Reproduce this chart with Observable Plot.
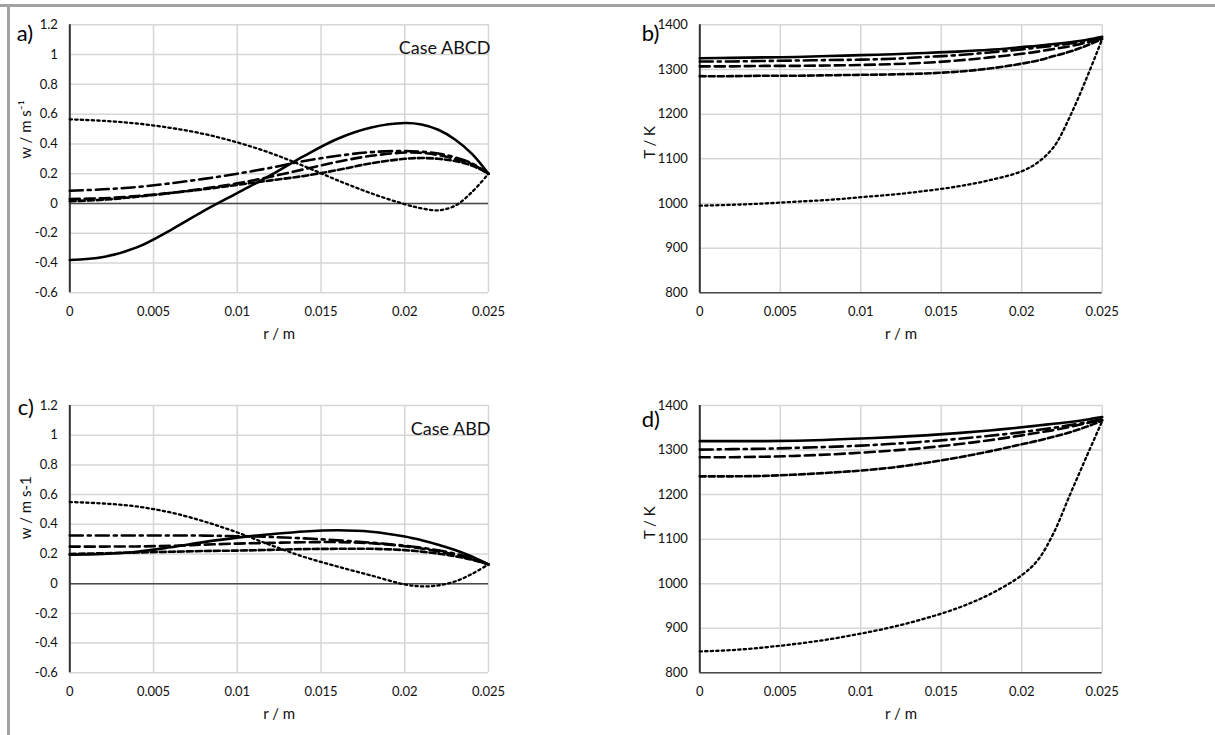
<!DOCTYPE html>
<html><head><meta charset="utf-8">
<script src="https://cdn.jsdelivr.net/npm/d3@7"></script>
<script src="https://cdn.jsdelivr.net/npm/@observablehq/plot@0.6"></script>
<style>
body{margin:0;background:#fff;}
#root{position:relative;width:1215px;height:735px;overflow:hidden;background:#fff;font-family:Lato,"Open Sans",sans-serif;}
.panel{position:absolute;}
.bdr{position:absolute;background:#a3a3a3;}
</style></head><body>
<div id="root"></div>
<script>
// ---------- data ----------
const r = [0, 0.002, 0.004, 0.006, 0.008, 0.010, 0.012, 0.014, 0.016, 0.018, 0.020, 0.021, 0.022, 0.023, 0.024, 0.025];

const xTicks = [0, 0.005, 0.01, 0.015, 0.02, 0.025];
const xTickLabels = ["0", "0.005", "0.01", "0.015", "0.02", "0.025"];
const wTicks = [-0.6, -0.4, -0.2, 0, 0.2, 0.4, 0.6, 0.8, 1, 1.2];
const wTickLabels = ["-0.6", "-0.4", "-0.2", "0", "0.2", "0.4", "0.6", "0.8", "1", "1.2"];
const tTicks = [800, 900, 1000, 1100, 1200, 1300, 1400];
const tTickLabels = ["800", "900", "1000", "1100", "1200", "1300", "1400"];

const seriesKeys = ["S1", "S2", "S3", "S4", "S5"];

// panel a: w, Case ABCD
const wA1 = [-0.38, -0.36, -0.295, -0.18, -0.05, 0.07, 0.19, 0.32, 0.435, 0.51, 0.54, 0.53, 0.495, 0.43, 0.335, 0.20];
const wA2 = [0.085, 0.095, 0.11, 0.135, 0.165, 0.20, 0.24, 0.285, 0.32, 0.345, 0.352, 0.347, 0.335, 0.31, 0.27, 0.20];
const wA3 = [0.03, 0.035, 0.05, 0.07, 0.10, 0.135, 0.18, 0.23, 0.28, 0.32, 0.342, 0.34, 0.325, 0.30, 0.265, 0.20];
const wA4 = [0.015, 0.025, 0.045, 0.07, 0.095, 0.125, 0.155, 0.185, 0.225, 0.27, 0.30, 0.305, 0.30, 0.285, 0.255, 0.20];
const wA5 = [0.565, 0.555, 0.537, 0.508, 0.467, 0.41, 0.338, 0.25, 0.155, 0.068, -0.005, -0.033, -0.046, -0.015, 0.075, 0.20];

// panel b: T, Case ABCD
const tB1 = [1325, 1326, 1327, 1328, 1330, 1332, 1334, 1337, 1340, 1344, 1350, 1353, 1357, 1361, 1366, 1373];
const tB2 = [1318, 1318, 1319, 1320, 1321, 1322, 1324, 1328, 1332, 1338, 1345, 1349, 1353, 1358, 1363, 1370];
const tB3 = [1307, 1307, 1308, 1308, 1309, 1310, 1312, 1315, 1320, 1327, 1335, 1340, 1346, 1352, 1360, 1370];
const tB4 = [1285, 1285, 1286, 1286, 1287, 1288, 1289, 1291, 1295, 1302, 1313, 1320, 1330, 1340, 1353, 1368];
const tB5 = [995, 997, 1000, 1004, 1008, 1014, 1020, 1028, 1038, 1052, 1072, 1092, 1127, 1195, 1278, 1368];

// panel c: w, Case ABD
const wC1 = [0.195, 0.20, 0.215, 0.245, 0.28, 0.31, 0.333, 0.352, 0.36, 0.35, 0.318, 0.293, 0.263, 0.227, 0.183, 0.13];
const wC2 = [0.325, 0.325, 0.325, 0.325, 0.324, 0.32, 0.315, 0.305, 0.292, 0.276, 0.256, 0.242, 0.225, 0.202, 0.172, 0.13];
const wC3 = [0.25, 0.25, 0.251, 0.255, 0.263, 0.27, 0.275, 0.279, 0.28, 0.272, 0.252, 0.237, 0.217, 0.195, 0.165, 0.13];
const wC4 = [0.20, 0.205, 0.21, 0.215, 0.22, 0.223, 0.228, 0.233, 0.235, 0.235, 0.226, 0.216, 0.202, 0.185, 0.162, 0.13];
const wC5 = [0.55, 0.54, 0.52, 0.48, 0.42, 0.345, 0.26, 0.18, 0.115, 0.055, -0.005, -0.018, -0.012, 0.015, 0.065, 0.13];

// panel d: T, Case ABD
const tD1 = [1320, 1320, 1320, 1321, 1323, 1326, 1329, 1333, 1338, 1344, 1351, 1355, 1359, 1363, 1368, 1374];
const tD2 = [1301, 1302, 1303, 1305, 1307, 1310, 1314, 1319, 1325, 1332, 1340, 1345, 1350, 1356, 1362, 1370];
const tD3 = [1284, 1284, 1285, 1287, 1290, 1294, 1299, 1305, 1313, 1322, 1333, 1339, 1345, 1352, 1360, 1368];
const tD4 = [1241, 1241, 1242, 1245, 1249, 1254, 1261, 1271, 1283, 1297, 1313, 1321, 1330, 1340, 1352, 1366];
const tD5 = [848, 851, 857, 865, 875, 888, 903, 922, 945, 976, 1019, 1053, 1115, 1200, 1283, 1365];

// ---------- styles ----------
const lineStyle = {
  S1: {strokeWidth: 2.6, strokeDasharray: null},
  S2: {strokeWidth: 2.6, strokeDasharray: "13,5,3,5"},
  S3: {strokeWidth: 2.6, strokeDasharray: "10,5"},
  S4: {strokeWidth: 2.6, strokeDasharray: "6,3"},
  S5: {strokeWidth: 2.3, strokeDasharray: "2.3,3.2"}
};

function table(arrs) {
  const rows = [];
  arrs.forEach((vals, k) => vals.forEach((v, i) => rows.push({r: r[i], v, s: seriesKeys[k]})));
  return rows;
}

const root = document.getElementById("root");
function addBorder(css) { const d = document.createElement("div"); d.className = "bdr"; Object.assign(d.style, css); root.appendChild(d); }

function panel({left, top, width, height, mL, mR, mT, mB, yDomain, yTicks, yLabels, baseY, yTitle, yTitleDx, tag, tagDx, tagDy, caseText, caseDy, series}) {
  const rows = table(series);
  const fmtX = d => xTickLabels[xTicks.indexOf(d)];
  const fmtY = d => yLabels[yTicks.indexOf(d)];
  const marks = [
    Plot.gridX(xTicks, {stroke: "#d6d6d6", strokeOpacity: 1, strokeWidth: 1.5}),
    Plot.gridY(yTicks, {stroke: "#d6d6d6", strokeOpacity: 1, strokeWidth: 1.5}),
    Plot.axisX(xTicks, {tickSize: 0, tickPadding: 14, tickFormat: fmtX, label: null, fontSize: 13, fill: "#111"}),
    Plot.axisY(yTicks, {tickSize: 0, tickPadding: 12, tickFormat: fmtY, label: null, fontSize: 13, fill: "#111"}),
    Plot.ruleY([baseY], {stroke: "#4a4a4a", strokeWidth: 1.6}),
    Plot.ruleX([0], {stroke: "#333", strokeWidth: 2})
  ];
  for (const k of seriesKeys) {
    marks.push(Plot.line(rows.filter(d => d.s === k), {x: "r", y: "v", curve: "catmull-rom", stroke: "#000", ...lineStyle[k]}));
  }
  marks.push(Plot.text(["r / m"], {frameAnchor: "bottom", dy: 46, fontSize: 15, fill: "#111"}));
  marks.push(Plot.text([yTitle], {frameAnchor: "left", dx: yTitleDx, rotate: -90, fontSize: 15, fill: "#111"}));
  marks.push(Plot.text([tag], {frameAnchor: "top-left", dx: tagDx, dy: tagDy, textAnchor: "start", fontSize: 22, fill: "#000"}));
  if (caseText) marks.push(Plot.text([caseText], {frameAnchor: "top-right", dx: 2, dy: caseDy, textAnchor: "end", fontSize: 18, fill: "#111"}));
  const svg = Plot.plot({
    width, height, marginLeft: mL, marginRight: mR, marginTop: mT, marginBottom: mB,
    x: {domain: [0, 0.025]}, y: {domain: yDomain},
    style: {fontFamily: "Lato, 'Open Sans', sans-serif", background: "transparent", overflow: "visible", color: "#111"},
    marks
  });
  svg.classList.add("panel");
  svg.style.left = left + "px"; svg.style.top = top + "px";
  root.appendChild(svg);
}

addBorder({left: "0px", top: "4px", width: "1215px", height: "3px"});
addBorder({left: "7px", top: "4px", width: "3px", height: "731px"});

panel({left: 0, top: 0, width: 600, height: 360, mL: 69.3, mR: 112, mT: 24.3, mB: 67.7,
  yDomain: [-0.6, 1.2], yTicks: wTicks, yLabels: wTickLabels, baseY: 0, yTitle: "w / m s⁻¹", yTitleDx: -44,
  tag: "a)", tagDx: -53, tagDy: 1, caseText: "Case ABCD", caseDy: 16, series: [wA1, wA2, wA3, wA4, wA5]});
panel({left: 600, top: 0, width: 615, height: 360, mL: 99.3, mR: 113.3, mT: 24.3, mB: 67.7,
  yDomain: [800, 1400], yTicks: tTicks, yLabels: tTickLabels, baseY: 800, yTitle: "T / K", yTitleDx: -50,
  tag: "b)", tagDx: -58, tagDy: 1, caseText: null, series: [tB1, tB2, tB3, tB4, tB5]});
panel({left: 0, top: 370, width: 600, height: 365, mL: 69.3, mR: 112, mT: 35, mB: 62.7,
  yDomain: [-0.6, 1.2], yTicks: wTicks, yLabels: wTickLabels, baseY: 0, yTitle: "w / m s-1", yTitleDx: -44,
  tag: "c)", tagDx: -52, tagDy: -6, caseText: "Case ABD", caseDy: 17, series: [wC1, wC2, wC3, wC4, wC5]});
panel({left: 600, top: 370, width: 615, height: 365, mL: 99.3, mR: 113.3, mT: 35, mB: 62.7,
  yDomain: [800, 1400], yTicks: tTicks, yLabels: tTickLabels, baseY: 800, yTitle: "T / K", yTitleDx: -50,
  tag: "d)", tagDx: -58, tagDy: 6, caseText: null, series: [tD1, tD2, tD3, tD4, tD5]});
</script>
</body></html>
